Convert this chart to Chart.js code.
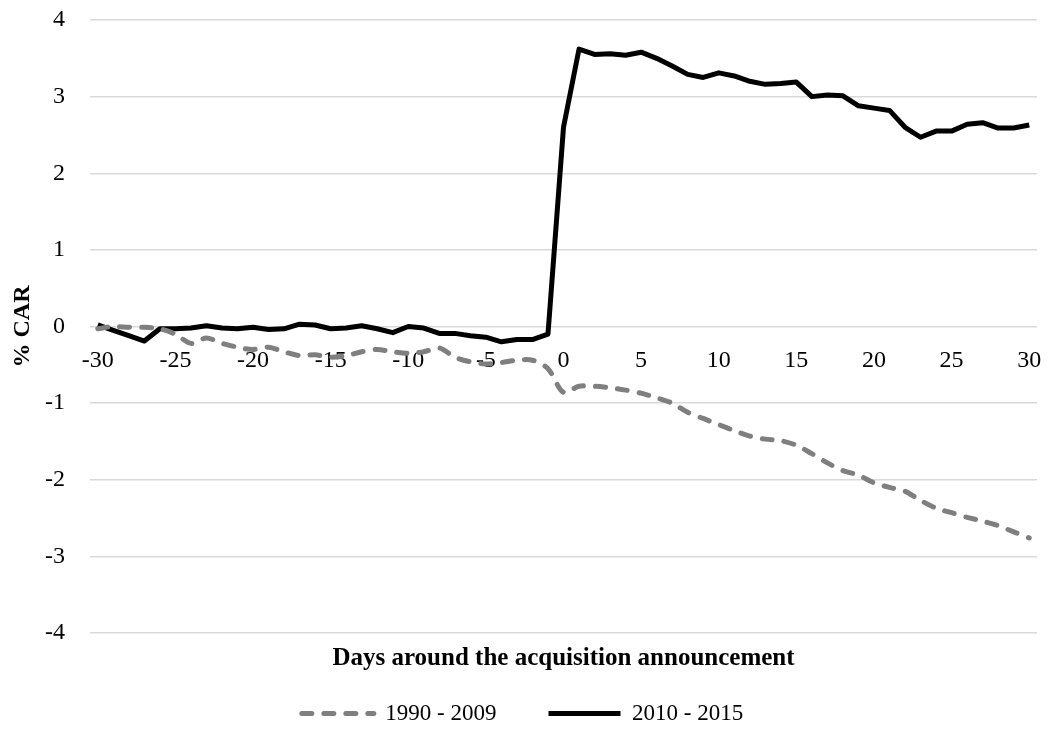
<!DOCTYPE html>
<html>
<head>
<meta charset="utf-8">
<script src="https://cdn.jsdelivr.net/npm/chart.js@4"></script>
<style>
  html, body { margin: 0; padding: 0; background: #fff; }
  #wrap { width: 1050px; height: 735px; }
</style>
</head>
<body>
<div id="wrap"><canvas id="myChart"></canvas></div>
<script>
const days = [];
for (let d = -30; d <= 30; d++) days.push(d);

const car1990to2009 = [
  -0.03, 0.00, -0.01, -0.01, -0.03, -0.10, -0.22, -0.15, -0.22, -0.27,
  -0.30, -0.27, -0.33, -0.38, -0.37, -0.40, -0.38, -0.33, -0.30, -0.33,
  -0.35, -0.33, -0.28, -0.40, -0.46, -0.49, -0.47, -0.44, -0.44, -0.55,
  -0.86, -0.78, -0.78, -0.80, -0.83, -0.87, -0.93, -1.00, -1.12, -1.20,
  -1.28, -1.36, -1.43, -1.47, -1.49, -1.55, -1.66, -1.78, -1.88, -1.94,
  -2.04, -2.10, -2.15, -2.27, -2.37, -2.43, -2.49, -2.54, -2.60, -2.68,
  -2.76
];

const car2010to2015 = [
  0.02, -0.05, -0.12, -0.19, -0.03, -0.03, -0.02, 0.01, -0.02, -0.03,
  -0.01, -0.04, -0.03, 0.03, 0.02, -0.03, -0.02, 0.01, -0.03, -0.08,
  0.00, -0.02, -0.09, -0.09, -0.12, -0.14, -0.20, -0.17, -0.17, -0.10,
  2.60, 3.62, 3.55, 3.56, 3.54, 3.58, 3.50, 3.40, 3.29, 3.25,
  3.31, 3.27, 3.20, 3.16, 3.17, 3.19, 3.00, 3.02, 3.01, 2.88,
  2.85, 2.82, 2.60, 2.47, 2.55, 2.55, 2.64, 2.66, 2.59, 2.59,
  2.63
];

const serif = 'Liberation Serif';

const chart = new Chart(document.getElementById('myChart'), {
  type: 'line',
  data: {
    labels: days,
    datasets: [
      {
        label: '1990 - 2009',
        data: car1990to2009,
        borderColor: '#7f7f7f',
        borderWidth: 5,
        borderDash: [10, 12],
        borderCapStyle: 'round',
        tension: 0.3,
        pointRadius: 0,
        fill: false,
      },
      {
        label: '2010 - 2015',
        data: car2010to2015,
        borderColor: '#000000',
        borderWidth: 5,
        borderJoinStyle: 'round',
        tension: 0,
        pointRadius: 0,
        fill: false,
      },
    ],
  },
  options: {
    responsive: true,
    maintainAspectRatio: false,
    animation: false,
    layout: { padding: { left: 8, right: 13, top: 0, bottom: 0 } },
    scales: {
      x: {
        type: 'category',
        offset: true,
        position: { y: 0 },
        grid: { display: false, drawTicks: false },
        border: { display: false },
        // labels sit on the zero line, so take no layout room
        afterFit: function (scale) {
          scale.height = 0;
          scale.paddingLeft = 0;
          scale.paddingRight = 0;
        },
        ticks: {
          autoSkip: false,
          maxRotation: 0,
          padding: 20,
          color: '#000',
          font: { family: serif, size: 24 },
          callback: function (val, i) {
            const d = days[i];
            return d % 5 === 0 ? String(d) : '';
          },
        },
      },
      y: {
        min: -4,
        max: 4,
        afterFit: function (scale) {
          scale.width = 82;
          scale.paddingTop = 20;
          scale.paddingBottom = 0;
        },
        grid: { color: '#d9d9d9', lineWidth: 1.5, drawTicks: false },
        border: { display: false },
        ticks: {
          stepSize: 1,
          padding: 25,
          color: '#000',
          font: { family: serif, size: 24 },
        },
        title: {
          display: true,
          text: '% CAR',
          color: '#000',
          font: { family: serif, size: 24, weight: 'bold' },
          padding: 0,
        },
      },
    },
    plugins: {
      title: {
        display: true,
        position: 'bottom',
        fullSize: false,
        weight: 500,
        text: 'Days around the acquisition announcement',
        color: '#000',
        font: { family: serif, size: 25, weight: 'bold' },
        padding: { top: 11, bottom: -24 },
      },
      legend: {
        position: 'bottom',
        labels: {
          usePointStyle: true,
          pointStyle: 'line',
          pointStyleWidth: 72,
          boxWidth: 72,
          boxHeight: 10,
          padding: 52,
          color: '#000',
          font: { family: serif, size: 23 },
          generateLabels: function (c) {
            const items = Chart.defaults.plugins.legend.labels.generateLabels(c);
            items.forEach(function (it) {
              const ds = c.data.datasets[it.datasetIndex];
              it.lineDash = ds.borderDash || [];
              it.lineCap = ds.borderCapStyle || 'butt';
              it.lineWidth = ds.borderWidth;
              it.strokeStyle = ds.borderColor;
            });
            return items;
          },
        },
      },
      tooltip: { enabled: false },
    },
  },
});
</script>
</body>
</html>
